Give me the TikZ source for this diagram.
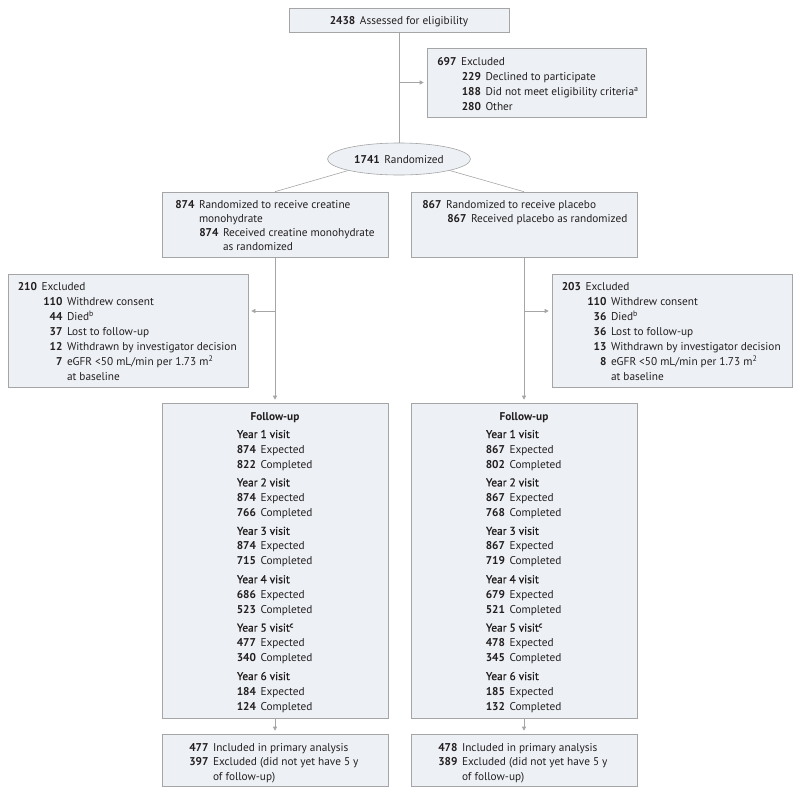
\documentclass[tikz,border=0pt]{standalone}
\usepackage{fontspec}
\setmainfont{PT Sans}
\newfontfamily\semib[FakeBold=1.2]{PT Sans}
\usetikzlibrary{arrows.meta,shapes.geometric}
\definecolor{boxfill}{HTML}{EDF1F5}
\definecolor{boxline}{HTML}{A5A5A5}
\definecolor{conn}{HTML}{A5A5A5}
\definecolor{ink}{HTML}{231F20}
\newcounter{tn}
\newcommand\tl[3]{\stepcounter{tn}\node[tx,#1] (t\arabic{tn}) at (#2) {#3};}
\newcommand\nr[4]{\stepcounter{tn}%
  \node[tx,anchor=base east] (n\arabic{tn}) at (#1,#2) {\textbf{#3}};%
  \node[tx,anchor=base west] (m\arabic{tn}) at ({#1+4.5},#2) {#4};}
\newcommand\yr[1]{{\semib #1}}
\begin{document}
\begin{tikzpicture}[x=1pt,y=-1pt,
  box/.style={draw=boxline,fill=boxfill,line width=0.6pt,inner sep=0pt,rectangle},
  tx/.style={inner sep=0pt,outer sep=0pt,text=ink,font=\fontsize{11.3}{13}\selectfont},
  conline/.style={draw=conn,line width=0.6pt},
  arr/.style={conline,-{Triangle[length=4pt,width=4pt]},shorten >=3pt}]
\useasboundingbox (0,0) rectangle (800,795);
% boxes
\node[box,minimum width=220pt,minimum height=24pt] (top) at (399,20) {};
\node[box,minimum width=219pt,minimum height=69pt] (excl) at (536.5,82.5) {};
\node[ellipse,draw=boxline,fill=boxfill,line width=0.6pt,inner sep=0pt,minimum width=143pt,minimum height=32pt] (ell) at (399,159) {};
\node[box,minimum width=226pt,minimum height=65pt] (L) at (275,224.5) {};
\node[box,minimum width=226pt,minimum height=65pt] (R) at (524,224.5) {};
\node[box,minimum width=240pt,minimum height=113pt] (LX) at (128,330.5) {};
\node[box,minimum width=240pt,minimum height=113pt] (RX) at (672,330.5) {};
\node[box,minimum width=226pt,minimum height=315pt] (LF) at (275,560.5) {};
\node[box,minimum width=226pt,minimum height=315pt] (RF) at (524,560.5) {};
\node[box,minimum width=226pt,minimum height=52pt] (LB) at (275,760) {};
\node[box,minimum width=226pt,minimum height=52pt] (RB) at (524,760) {};
% connectors
\draw[conline] (top.south) -- (ell.north);
\draw[arr] (top.south |- excl.west) -- (excl.west);
\draw[conline] (ell.south west) -- (L.north);
\draw[conline] (ell.south east) -- (R.north);
\coordinate (la) at (275,311);
\coordinate (ra) at (524,311);
\draw[arr] (L.south) -- (LF.north);
\draw[arr] (R.south) -- (RF.north);
\draw[arr] (la) -- (la -| LX.east);
\draw[arr] (ra) -- (ra -| RX.west);
\draw[arr] (LF.south) -- (LB.north);
\draw[arr] (RF.south) -- (RB.north);
% texts
\tl{anchor=base}{399,24}{\textbf{2438}\hspace{4.5pt}Assessed for eligibility}
\nr{456.5}{65}{697}{Excluded}
\nr{481}{80}{229}{Declined to participate}
\nr{481}{95}{188}{Did not meet eligibility criteria\textsuperscript{a}}
\nr{481}{110}{280}{Other}
\tl{anchor=base}{399,163}{\textbf{1741}\hspace{4.5pt}Randomized}
% randomized boxes
\nr{194.5}{208}{874}{Randomized to receive creatine}
\tl{anchor=base west}{199,222}{monohydrate}
\nr{218.5}{236}{874}{Received creatine monohydrate}
\tl{anchor=base west}{223,250}{as randomized}
\nr{441.5}{208}{867}{Randomized to receive placebo}
\nr{466.5}{222}{867}{Received placebo as randomized}
% excluded left
\nr{37}{290}{210}{Excluded}
\nr{62.5}{305}{110}{Withdrew consent}
\nr{62.5}{320}{44}{Died\textsuperscript{b}}
\nr{62.5}{335}{37}{Lost to follow-up}
\nr{62.5}{350}{12}{Withdrawn by investigator decision}
\nr{62.5}{365}{7}{eGFR <50 mL/min per 1.73 m\textsuperscript{2}}
\tl{anchor=base west}{67,380}{at baseline}
% excluded right
\nr{581}{290}{203}{Excluded}
\nr{606.5}{305}{110}{Withdrew consent}
\nr{606.5}{320}{36}{Died\textsuperscript{b}}
\nr{606.5}{335}{36}{Lost to follow-up}
\nr{606.5}{350}{13}{Withdrawn by investigator decision}
\nr{606.5}{365}{8}{eGFR <50 mL/min per 1.73 m\textsuperscript{2}}
\tl{anchor=base west}{611,380}{at baseline}
% follow-up left
\tl{anchor=base}{275,420}{\textbf{Follow-up}}
\tl{anchor=base west}{237,438}{\yr{Year 1 visit}}
\nr{256}{453}{874}{Expected}
\nr{256}{468}{822}{Completed}
\tl{anchor=base west}{237,486.4}{\yr{Year 2 visit}}
\nr{256}{501.4}{874}{Expected}
\nr{256}{516.4}{766}{Completed}
\tl{anchor=base west}{237,534.8}{\yr{Year 3 visit}}
\nr{256}{549.8}{874}{Expected}
\nr{256}{564.8}{715}{Completed}
\tl{anchor=base west}{237,583.2}{\yr{Year 4 visit}}
\nr{256}{598.2}{686}{Expected}
\nr{256}{613.2}{523}{Completed}
\tl{anchor=base west}{237,631.6}{\yr{Year 5 visit\textsuperscript{c}}}
\nr{256}{646.6}{477}{Expected}
\nr{256}{661.6}{340}{Completed}
\tl{anchor=base west}{237,680}{\yr{Year 6 visit}}
\nr{256}{695}{184}{Expected}
\nr{256}{710}{124}{Completed}
% follow-up right
\tl{anchor=base}{524,420}{\textbf{Follow-up}}
\tl{anchor=base west}{486,438}{\yr{Year 1 visit}}
\nr{505}{453}{867}{Expected}
\nr{505}{468}{802}{Completed}
\tl{anchor=base west}{486,486.4}{\yr{Year 2 visit}}
\nr{505}{501.4}{867}{Expected}
\nr{505}{516.4}{768}{Completed}
\tl{anchor=base west}{486,534.8}{\yr{Year 3 visit}}
\nr{505}{549.8}{867}{Expected}
\nr{505}{564.8}{719}{Completed}
\tl{anchor=base west}{486,583.2}{\yr{Year 4 visit}}
\nr{505}{598.2}{679}{Expected}
\nr{505}{613.2}{521}{Completed}
\tl{anchor=base west}{486,631.6}{\yr{Year 5 visit\textsuperscript{c}}}
\nr{505}{646.6}{478}{Expected}
\nr{505}{661.6}{345}{Completed}
\tl{anchor=base west}{486,680}{\yr{Year 6 visit}}
\nr{505}{695}{185}{Expected}
\nr{505}{710}{132}{Completed}
% bottom
\nr{208.5}{751}{477}{Included in primary analysis}
\nr{208.5}{765.5}{397}{Excluded (did not yet have 5 y}
\tl{anchor=base west}{213,780}{of follow-up)}
\nr{457.5}{751}{478}{Included in primary analysis}
\nr{457.5}{765.5}{389}{Excluded (did not yet have 5 y}
\tl{anchor=base west}{462,780}{of follow-up)}
\end{tikzpicture}
\end{document}
